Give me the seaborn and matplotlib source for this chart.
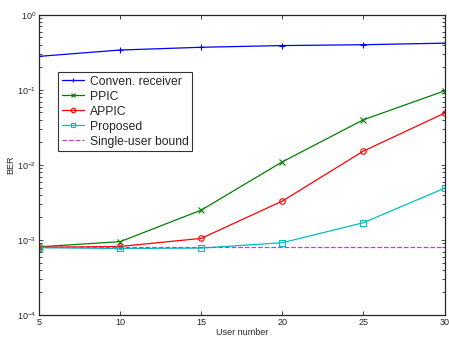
import numpy as np
import pandas as pd
import matplotlib
matplotlib.use("Agg")
import matplotlib.pyplot as plt
import seaborn as sns
from matplotlib.ticker import LogLocator, NullFormatter

users = [5, 10, 15, 20, 25, 30]
conven = [0.28, 0.34, 0.37, 0.39, 0.40, 0.42]
ppic = [0.00081, 0.00095, 0.0025, 0.011, 0.040, 0.097]
appic = [0.00080, 0.00082, 0.00105, 0.0033, 0.0153, 0.049]
proposed = [0.00079, 0.00077, 0.00078, 0.00092, 0.0017, 0.0049]
single = [0.00080] * 6

names = ["Conven. receiver", "PPIC", "APPIC", "Proposed", "Single-user bound"]
series = [conven, ppic, appic, proposed, single]
colors = ["#0000ff", "#008000", "#ff0000", "#00bfbf", "#c040c8"]
markers = ["+", "x", "o", "s", ""]

sns.set_style("ticks")
plt.rcParams['font.family'] = ['Liberation Sans', 'DejaVu Sans']

df = pd.DataFrame({
    "User number": users * len(names),
    "BER": sum(series, []),
    "Series": sum([[n] * len(users) for n in names], []),
})

fig = plt.figure(figsize=(4.49, 3.38), dpi=100)
ax = fig.add_axes([0.087, 0.068, 0.903, 0.888])

for n, c, m in zip(names, colors, markers):
    sub = df[df["Series"] == n]
    ls = "--" if n == "Single-user bound" else "-"
    sns.lineplot(data=sub, x="User number", y="BER", ax=ax, color=c,
                 marker=m if m else None, markersize=4, linewidth=0.9,
                 linestyle=ls, label=n, markerfacecolor="none",
                 markeredgecolor=c, markeredgewidth=0.8,
                 dashes=(6, 4) if ls == "--" else None)

ax.set_yscale("log")
ax.set_ylim(1e-4, 1)
ax.set_xlim(5, 30)
ax.set_xticks([5, 10, 15, 20, 25, 30])
ax.yaxis.set_major_locator(LogLocator(base=10, numticks=10))
ax.yaxis.set_minor_locator(LogLocator(base=10, subs=np.arange(2, 10), numticks=20))
ax.yaxis.set_minor_formatter(NullFormatter())
ax.tick_params(direction="in", top=True, right=True, which="both", labelsize=6.5,
               length=3, width=0.6, pad=2)
ax.tick_params(which="minor", length=2)
for s in ax.spines.values():
    s.set_linewidth(0.9)
    s.set_visible(True)
ax.set_xlabel("User number", fontsize=6.5, labelpad=1)
ax.set_ylabel("BER", fontsize=6.5, labelpad=1)

leg = ax.legend(loc="upper left", bbox_to_anchor=(0.033, 0.83), fontsize=8.7,
                frameon=True, fancybox=False, edgecolor="black",
                borderpad=0.3, labelspacing=0.25, handlelength=1.8,
                handletextpad=0.5, markerscale=0.8)
leg.get_frame().set_linewidth(0.8)

fig.savefig("out.png", dpi=100)
